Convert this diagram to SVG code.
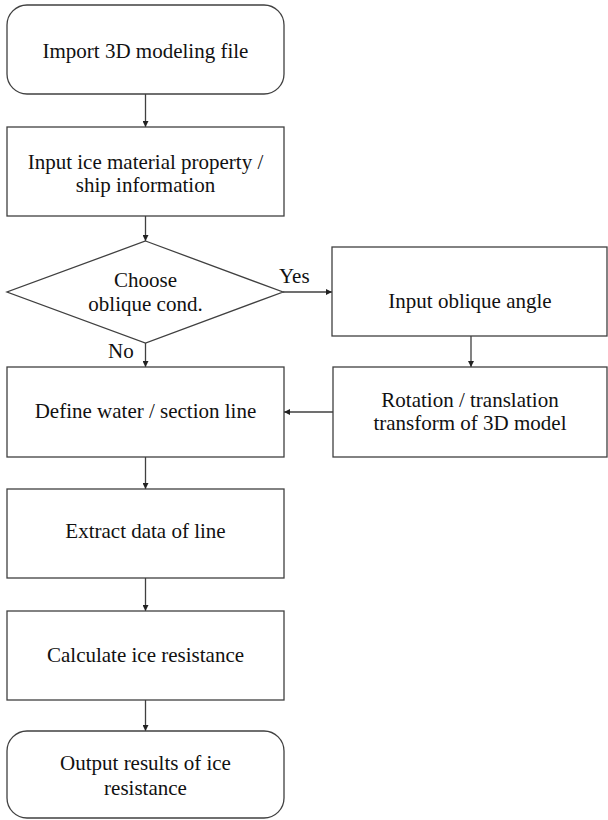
<svg xmlns="http://www.w3.org/2000/svg" width="608" height="820" viewBox="0 0 608 820">
<defs>
<style>
.n{fill:#fff;stroke:#404040;stroke-width:1.3}
.t{font-family:"Liberation Serif","DejaVu Serif","Noto Serif",FreeSerif,"Nimbus Roman","Times New Roman",serif;font-size:21px;fill:#111;text-anchor:middle}
.l{font-family:"Liberation Serif","DejaVu Serif","Noto Serif",FreeSerif,"Nimbus Roman","Times New Roman",serif;font-size:21px;fill:#111}
.c{fill:none;stroke:#404040;stroke-width:1.3;marker-end:url(#ah)}
</style>
<marker id="ah" viewBox="0 0 10 10" refX="10" refY="5" markerWidth="6" markerHeight="6" markerUnits="userSpaceOnUse" orient="auto">
<path d="M0,0 L10,5 L0,10 Z" fill="#222"/>
</marker>
</defs>
<rect width="608" height="820" fill="#fff"/>
<g id="connectors">
<line class="c" x1="145.5" y1="94" x2="145.5" y2="127"/>
<line class="c" x1="145.5" y1="216" x2="145.5" y2="241"/>
<line class="c" x1="145.5" y1="343" x2="145.5" y2="367"/>
<line class="c" x1="283" y1="292" x2="332" y2="292"/>
<line class="c" x1="471" y1="336" x2="471" y2="367"/>
<line class="c" x1="333" y1="412" x2="284" y2="412"/>
<line class="c" x1="145.5" y1="457" x2="145.5" y2="489"/>
<line class="c" x1="145.5" y1="578" x2="145.5" y2="611"/>
<line class="c" x1="145.5" y1="700" x2="145.5" y2="731"/>
<text class="l" x="279" y="283" style="font-family:'Liberation Serif',serif">Yes</text>
<text class="l" x="108" y="358" style="font-family:'Liberation Serif',serif">No</text>
</g>
<g id="import">
<rect class="n" x="7" y="5" width="277" height="89" rx="20"/>
<text class="t" x="145.5" y="58">Import 3D modeling file</text>
</g>
<g id="input-ice">
<rect class="n" x="7" y="127" width="277" height="89"/>
<text class="t" x="145.5" y="169">Input ice material property /</text>
<text class="t" x="145.5" y="192">ship information</text>
</g>
<g id="choose">
<polygon class="n" points="145.5,241 283,292 145.5,343 7,292"/>
<text class="t" x="145.5" y="287">Choose</text>
<text class="t" x="145.5" y="311">oblique cond.</text>
</g>
<g id="oblique-angle">
<rect class="n" x="332" y="247" width="275" height="89"/>
<text class="t" x="470" y="308">Input oblique angle</text>
</g>
<g id="rotation">
<rect class="n" x="333" y="367" width="274" height="90"/>
<text class="t" x="470" y="407">Rotation / translation</text>
<text class="t" x="470" y="430">transform of 3D model</text>
</g>
<g id="define">
<rect class="n" x="7" y="367" width="277" height="90"/>
<text class="t" x="145.5" y="418">Define water / section line</text>
</g>
<g id="extract">
<rect class="n" x="7" y="489" width="277" height="89"/>
<text class="t" x="145.5" y="538">Extract data of line</text>
</g>
<g id="calculate">
<rect class="n" x="7" y="611" width="277" height="89"/>
<text class="t" x="145.5" y="662">Calculate ice resistance</text>
</g>
<g id="output">
<rect class="n" x="7" y="731" width="277" height="87" rx="20"/>
<text class="t" x="145.5" y="770">Output results of ice</text>
<text class="t" x="145.5" y="795">resistance</text>
</g>
</svg>
